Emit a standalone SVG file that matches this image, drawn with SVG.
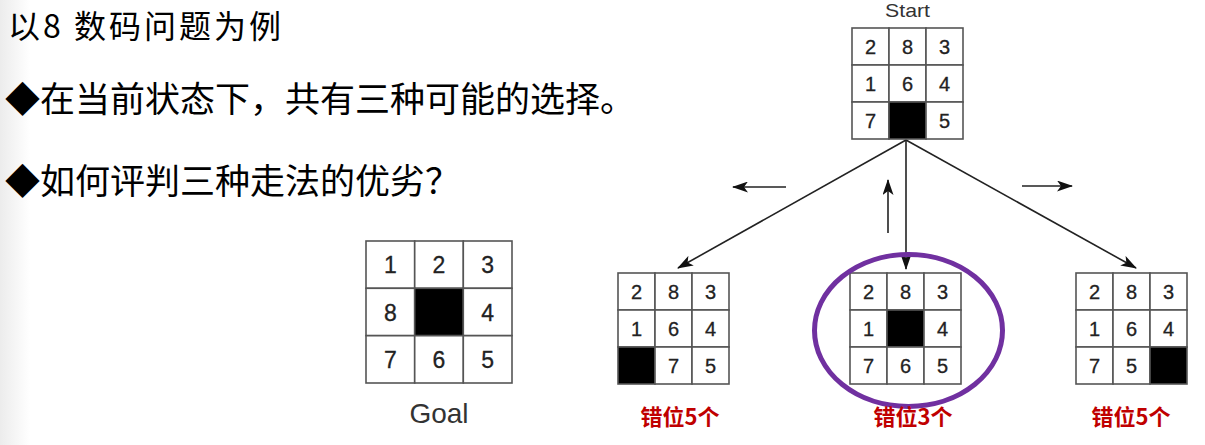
<svg xmlns="http://www.w3.org/2000/svg" width="1205" height="445" viewBox="0 0 1205 445">
  <defs>
    <linearGradient id="bg" x1="0" y1="0" x2="1" y2="0">
      <stop offset="0" stop-color="#ececec"/>
      <stop offset="1" stop-color="#ffffff"/>
    </linearGradient>
    <marker id="arr" viewBox="0 0 16 11" refX="15" refY="5.5" markerWidth="16" markerHeight="11" markerUnits="userSpaceOnUse" orient="auto">
      <path d="M0,0 L16,5.5 L0,11 L4,5.5 Z" fill="#111"/>
    </marker>
    <style>
      .cjk { font-family: "Noto Sans CJK SC", "Noto Sans", sans-serif; fill: #000; }
      .cell { fill: #fff; stroke: #555; stroke-width: 1.6; }
      .blk { fill: #000; stroke: #555; stroke-width: 1.6; }
      .d { font-family: "Liberation Sans", Arial, sans-serif; font-size: 20px; fill: #222; stroke: #222; stroke-width: 0.3; text-anchor: middle; }
      .dg { font-family: "Liberation Sans", Arial, sans-serif; font-size: 23px; fill: #222; stroke: #222; stroke-width: 0.3; text-anchor: middle; }
      .lbl { font-family: "Liberation Sans", Arial, sans-serif; fill: #333; text-anchor: middle; }
      .red { font-family: "Noto Sans CJK SC", "Liberation Sans", sans-serif; font-size: 22px; font-weight: bold; fill: #c00000; text-anchor: middle; }
      .con { stroke: #222; stroke-width: 1.6; fill: none; }
    </style>
  </defs>
  <rect x="0" y="0" width="1205" height="445" fill="#fff"/>
  <rect x="0" y="0" width="30" height="445" fill="url(#bg)"/>

  <g id="text">
    <text class="cjk" x="8" y="38" font-size="32" textLength="273" lengthAdjust="spacing">以8 数码问题为例</text>
    <text class="cjk" x="5" y="112" font-size="35">◆在当前状态下，共有三种可能的选择。</text>
    <text class="cjk" x="5" y="194" font-size="35">◆如何评判三种走法的优劣？</text>
  </g>

  <g id="connectors">
    <line class="con" x1="906" y1="140" x2="678" y2="268" marker-end="url(#arr)"/>
    <line class="con" x1="906" y1="140" x2="906" y2="269" marker-end="url(#arr)"/>
    <line class="con" x1="906" y1="140" x2="1136" y2="268" marker-end="url(#arr)"/>
    <line class="con" x1="786" y1="187" x2="733" y2="187" marker-end="url(#arr)"/>
    <line class="con" x1="888" y1="233" x2="888" y2="180" marker-end="url(#arr)"/>
    <line class="con" x1="1022" y1="186" x2="1072" y2="186" marker-end="url(#arr)"/>
  </g>

  <g id="start">
    <text class="lbl" x="907.5" y="17" font-size="19" textLength="45" lengthAdjust="spacingAndGlyphs">Start</text>
    <rect class="cell" x="852" y="28" width="37" height="37"/>
    <rect class="cell" x="889" y="28" width="37" height="37"/>
    <rect class="cell" x="926" y="28" width="37" height="37"/>
    <rect class="cell" x="852" y="65" width="37" height="37"/>
    <rect class="cell" x="889" y="65" width="37" height="37"/>
    <rect class="cell" x="926" y="65" width="37" height="37"/>
    <rect class="cell" x="852" y="102" width="37" height="37"/>
    <rect class="blk" x="889" y="102" width="37" height="37"/>
    <rect class="cell" x="926" y="102" width="37" height="37"/>
    <text class="d" x="870.5" y="53.5">2</text>
    <text class="d" x="907.5" y="53.5">8</text>
    <text class="d" x="944.5" y="53.5">3</text>
    <text class="d" x="870.5" y="90.5">1</text>
    <text class="d" x="907.5" y="90.5">6</text>
    <text class="d" x="944.5" y="90.5">4</text>
    <text class="d" x="870.5" y="127.5">7</text>
    <text class="d" x="944.5" y="127.5">5</text>
  </g>

  <g id="goal">
    <rect class="cell" x="366" y="241" width="48.7" height="47.3"/>
    <rect class="cell" x="414.7" y="241" width="48.7" height="47.3"/>
    <rect class="cell" x="463.3" y="241" width="48.7" height="47.3"/>
    <rect class="cell" x="366" y="288.3" width="48.7" height="47.3"/>
    <rect class="blk" x="414.7" y="288.3" width="48.7" height="47.3"/>
    <rect class="cell" x="463.3" y="288.3" width="48.7" height="47.3"/>
    <rect class="cell" x="366" y="335.7" width="48.7" height="47.3"/>
    <rect class="cell" x="414.7" y="335.7" width="48.7" height="47.3"/>
    <rect class="cell" x="463.3" y="335.7" width="48.7" height="47.3"/>
    <text class="dg" x="390.3" y="273">1</text>
    <text class="dg" x="439" y="273">2</text>
    <text class="dg" x="487.7" y="273">3</text>
    <text class="dg" x="390.3" y="320.5">8</text>
    <text class="dg" x="487.7" y="320.5">4</text>
    <text class="dg" x="390.3" y="368">7</text>
    <text class="dg" x="439" y="368">6</text>
    <text class="dg" x="487.7" y="368">5</text>
    <text class="lbl" x="439" y="423" font-size="28">Goal</text>
  </g>

  <g id="left-state">
    <rect class="cell" x="618" y="273" width="37" height="37"/>
    <rect class="cell" x="655" y="273" width="37" height="37"/>
    <rect class="cell" x="692" y="273" width="37" height="37"/>
    <rect class="cell" x="618" y="310" width="37" height="37"/>
    <rect class="cell" x="655" y="310" width="37" height="37"/>
    <rect class="cell" x="692" y="310" width="37" height="37"/>
    <rect class="blk" x="618" y="347" width="37" height="37"/>
    <rect class="cell" x="655" y="347" width="37" height="37"/>
    <rect class="cell" x="692" y="347" width="37" height="37"/>
    <text class="d" x="636.5" y="298.5">2</text>
    <text class="d" x="673.5" y="298.5">8</text>
    <text class="d" x="710.5" y="298.5">3</text>
    <text class="d" x="636.5" y="335.5">1</text>
    <text class="d" x="673.5" y="335.5">6</text>
    <text class="d" x="710.5" y="335.5">4</text>
    <text class="d" x="673.5" y="372.5">7</text>
    <text class="d" x="710.5" y="372.5">5</text>
    <text class="red" x="680" y="425">错位5个</text>
  </g>

  <g id="middle-state">
    <rect class="cell" x="850" y="273" width="37" height="37"/>
    <rect class="cell" x="887" y="273" width="37" height="37"/>
    <rect class="cell" x="924" y="273" width="37" height="37"/>
    <rect class="cell" x="850" y="310" width="37" height="37"/>
    <rect class="blk" x="887" y="310" width="37" height="37"/>
    <rect class="cell" x="924" y="310" width="37" height="37"/>
    <rect class="cell" x="850" y="347" width="37" height="37"/>
    <rect class="cell" x="887" y="347" width="37" height="37"/>
    <rect class="cell" x="924" y="347" width="37" height="37"/>
    <text class="d" x="868.5" y="298.5">2</text>
    <text class="d" x="905.5" y="298.5">8</text>
    <text class="d" x="942.5" y="298.5">3</text>
    <text class="d" x="868.5" y="335.5">1</text>
    <text class="d" x="942.5" y="335.5">4</text>
    <text class="d" x="868.5" y="372.5">7</text>
    <text class="d" x="905.5" y="372.5">6</text>
    <text class="d" x="942.5" y="372.5">5</text>
    <ellipse cx="908.5" cy="330.5" rx="94" ry="76" fill="none" stroke="#7030a0" stroke-width="5"/>
    <text class="red" x="913" y="425">错位3个</text>
  </g>

  <g id="right-state">
    <rect class="cell" x="1076" y="273" width="37" height="37"/>
    <rect class="cell" x="1113" y="273" width="37" height="37"/>
    <rect class="cell" x="1150" y="273" width="37" height="37"/>
    <rect class="cell" x="1076" y="310" width="37" height="37"/>
    <rect class="cell" x="1113" y="310" width="37" height="37"/>
    <rect class="cell" x="1150" y="310" width="37" height="37"/>
    <rect class="cell" x="1076" y="347" width="37" height="37"/>
    <rect class="cell" x="1113" y="347" width="37" height="37"/>
    <rect class="blk" x="1150" y="347" width="37" height="37"/>
    <text class="d" x="1094.5" y="298.5">2</text>
    <text class="d" x="1131.5" y="298.5">8</text>
    <text class="d" x="1168.5" y="298.5">3</text>
    <text class="d" x="1094.5" y="335.5">1</text>
    <text class="d" x="1131.5" y="335.5">6</text>
    <text class="d" x="1168.5" y="335.5">4</text>
    <text class="d" x="1094.5" y="372.5">7</text>
    <text class="d" x="1131.5" y="372.5">5</text>
    <text class="red" x="1131" y="425">错位5个</text>
  </g>
</svg>
